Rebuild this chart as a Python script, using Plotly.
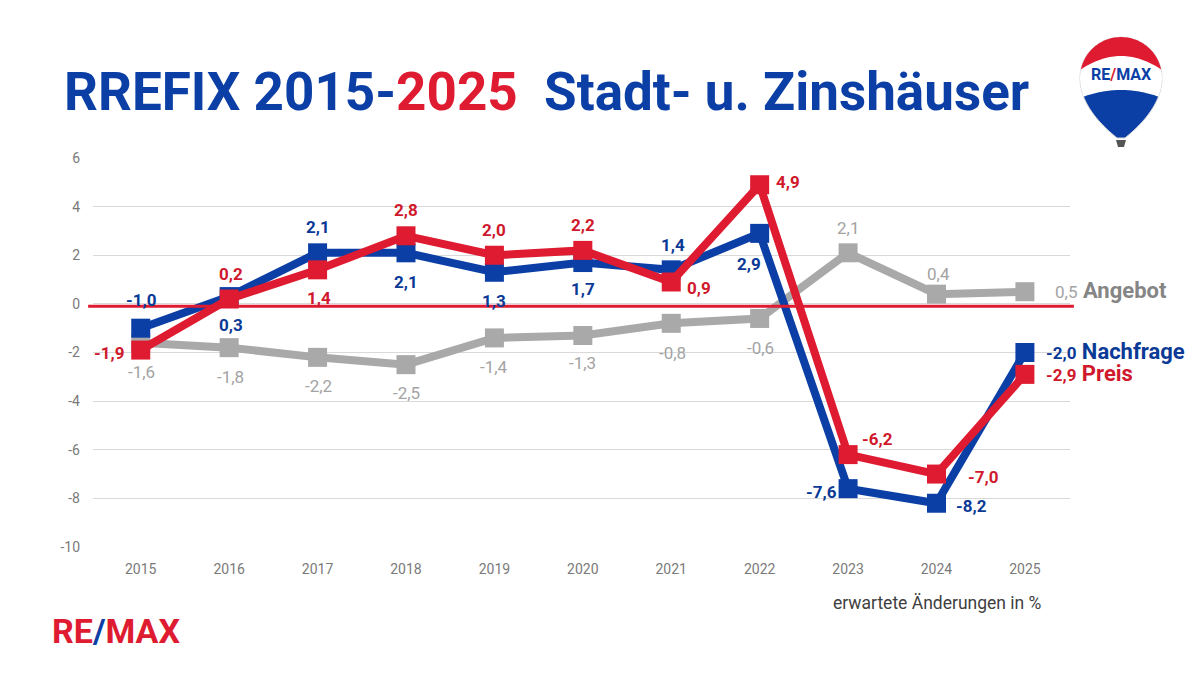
import numpy as np
import plotly.graph_objects as go

years = [2015, 2016, 2017, 2018, 2019, 2020, 2021, 2022, 2023, 2024, 2025]
nachfrage = [-1.0, 0.3, 2.1, 2.1, 1.3, 1.7, 1.4, 2.9, -7.6, -8.2, -2.0]
preis = [-1.9, 0.2, 1.4, 2.8, 2.0, 2.2, 0.9, 4.9, -6.2, -7.0, -2.9]
angebot = [-1.6, -1.8, -2.2, -2.5, -1.4, -1.3, -0.8, -0.6, 2.1, 0.4, 0.5]
series_names = ["Nachfrage", "Preis", "Angebot"]
y_ticks = [6, 4, 2, 0, -2, -4, -6, -8, -10]

BLUE = "#0B3FA6"
BLUE_TXT = "#0A3A96"
RED = "#DE1B30"
RED_TXT = "#D0192D"
GRAY = "#A9A9A9"
GRAY_TXT = "#A3A3A3"
GRAY_NAME = "#858585"

W, H = 1203, 677
OX, OY = 8, 8  # page body offset
L, R, T, B = 93, 1070, 158, 547
PW, PH = R - L, B - T


def px(x):
    return (x - L) / PW


def py(y):
    return (B - y) / PH


fig = go.Figure()

for vals, col, name in [(angebot, GRAY, series_names[2]),
                        (nachfrage, BLUE, series_names[0]),
                        (preis, RED, series_names[1])]:
    fig.add_trace(go.Scatter(
        x=years, y=vals, mode="lines+markers", name=name,
        line=dict(color=col, width=8),
        marker=dict(symbol="square", size=19, color=col),
        hoverinfo="skip", showlegend=False))

# zero line
fig.add_shape(type="line", xref="paper", yref="y", x0=-0.005, x1=1.004,
              y0=-0.1, y1=-0.1, line=dict(color=RED, width=3), layer="above")


def fmt(v):
    return ("%.1f" % v).replace(".", ",")


# label offsets (dx, dy) in pixels, dy positive = downwards
off_blue = [(0, -28), (2, 28), (0, -26), (0, 29), (0, 29), (0, 26), (2, -25), (-11, 31), (-27, 3), (35, 3)]
off_red = [(-32, 3), (2, -25), (1, 28), (0, -26), (0, -25), (0, -25), (28, 6), (28, -3), (29, -16), (47, 3)]
off_gray = [(1, 29), (1, 29), (1, 29), (1, 28), (0, 29), (0, 28), (1, 30), (1, 30), (0, -25), (2, -20)]

anns = []
for vals, offs, col, bold in [(nachfrage, off_blue, BLUE_TXT, True),
                              (preis, off_red, RED_TXT, True),
                              (angebot, off_gray, GRAY_TXT, False)]:
    for i, (dx, dy) in enumerate(offs):
        anns.append(dict(x=years[i], y=vals[i], xref="x", yref="y",
                         text=fmt(vals[i]), showarrow=False,
                         xshift=dx, yshift=-dy,
                         font=dict(family="Roboto", size=17, color=col,
                                   weight="bold" if bold else "normal")))

# end labels
for vals, col, ncol, name, shift in [(nachfrage, BLUE_TXT, BLUE_TXT, series_names[0], 19),
                                     (preis, RED_TXT, RED_TXT, series_names[1], 19),
                                     (angebot, GRAY_TXT, GRAY_NAME, series_names[2], 28)]:
    bold = name != series_names[2]
    anns.append(dict(x=years[-1], y=vals[-1], xref="x", yref="y", xanchor="left",
                     text="%s<span style='font-size:22px;color:%s'> <b>%s</b></span>" % (fmt(vals[-1]), ncol, name),
                     showarrow=False, xshift=shift, yshift=1,
                     font=dict(family="Roboto", size=17, color=col,
                               weight="bold" if bold else "normal")))

# title
anns.append(dict(xref="paper", yref="paper", x=px(62), y=py(92), xanchor="left", yanchor="middle",
                 text="RREFIX 2015-<span style='color:%s'>2025</span>  Stadt- u. Zinshäuser" % RED,
                 showarrow=False,
                 font=dict(family="Roboto", size=53, color=BLUE, weight="bold")))

# axis note
anns.append(dict(xref="paper", yref="paper", x=px(1044), y=py(603), xanchor="right", yanchor="middle",
                 text="erwartete Änderungen in %", showarrow=False,
                 font=dict(family="Roboto", size=17.5, color="#404040")))

# bottom logo
anns.append(dict(xref="paper", yref="paper", x=px(50), y=py(631), xanchor="left", yanchor="middle",
                 text="<span style='color:%s'>RE</span><span style='color:%s'>/</span><span style='color:%s'>MAX</span>" % (RED, BLUE, RED),
                 showarrow=False,
                 font=dict(family="Roboto", size=34, color=RED, weight="bold")))

# balloon logo
cx = 1121.0


def half_w(y):
    if y <= 78:
        return np.sqrt(max(41.0 ** 2 - (78 - y) ** 2, 0.0))
    t = (y - 78) / 60.0
    return 4 + 37 * (1 - t ** 2)


def boundary(d, y0, k):
    return y0 + k * (d / 41.0) ** 2


def inter(y0, k):
    lo, hi = 0.0, 45.0
    for _ in range(60):
        mid = (lo + hi) / 2
        if half_w(boundary(mid, y0, k)) - mid > 0:
            lo = mid
        else:
            hi = mid
    return lo


def path_from(pts):
    s = "M " + " L ".join("%.5f,%.5f" % (px(x), py(y)) for x, y in pts) + " Z"
    return s


def outline_pts(y_end):
    ys = np.linspace(37, y_end, 60)
    left = [(cx - half_w(y), y) for y in ys[::-1]]
    right = [(cx + half_w(y), y) for y in ys]
    return left + right


full = outline_pts(138)
fig.add_shape(type="path", xref="paper", yref="paper", path=path_from(full),
              fillcolor=BLUE, line=dict(color="#d8d8d8", width=1), layer="above")


def band(y0, k, color):
    d = inter(y0, k)
    yi = boundary(d, y0, k)
    pts = outline_pts(yi)
    xs = np.linspace(d, -d, 40)
    pts += [(cx + x, boundary(abs(x), y0, k)) for x in xs]
    fig.add_shape(type="path", xref="paper", yref="paper", path=path_from(pts),
                  fillcolor=color, line=dict(width=0), layer="above")


band(90, 8, "white")
band(56, 14, RED)
fig.add_shape(type="path", xref="paper", yref="paper",
              path=path_from([(1116, 140), (1126, 140), (1124, 147), (1118, 147)]),
              fillcolor="#555555", line=dict(width=0), layer="above")
anns.append(dict(xref="paper", yref="paper", x=px(cx), y=py(74), xanchor="center", yanchor="middle",
                 text="RE<span style='color:%s'>/</span>MAX" % RED, showarrow=False,
                 font=dict(family="Roboto", size=16, color=BLUE, weight="bold")))

fig.update_layout(
    width=W, height=H,
    margin=dict(l=L - OX, r=W - R + OX, t=T - OY, b=H - B + OY),
    paper_bgcolor="white", plot_bgcolor="white",
    annotations=anns,
    xaxis=dict(range=[2014.46, 2025.51], tickvals=years, ticktext=[str(y) for y in years],
               showgrid=False, zeroline=False, showline=False, ticks="", ticklabelstandoff=12,
               tickfont=dict(family="Roboto", size=14, color="#7a7a7a")),
    yaxis=dict(range=[-10, 6], tickvals=y_ticks, ticktext=[str(v) for v in y_ticks],
               showgrid=True, gridcolor="#d9d9d9", gridwidth=1, zeroline=False,
               showline=False, ticks="", ticklabelstandoff=12,
               tickfont=dict(family="Roboto", size=14, color="#7a7a7a")),
)

fig.write_html("out.html")
